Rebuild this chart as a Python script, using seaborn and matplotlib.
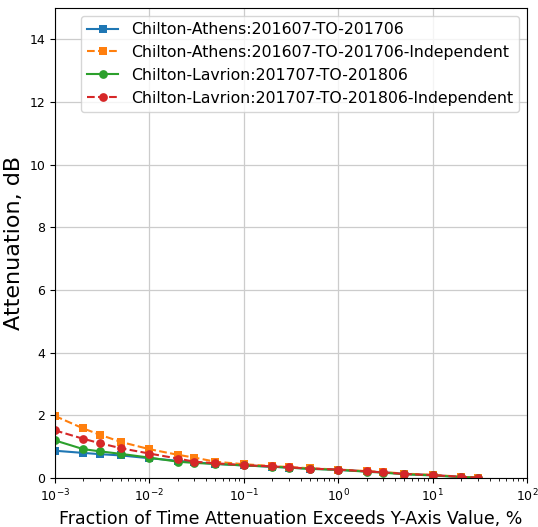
import matplotlib
matplotlib.use("Agg")
import matplotlib.pyplot as plt
import seaborn as sns
import pandas as pd

x_pct = [0.001, 0.002, 0.003, 0.005, 0.01, 0.02, 0.03, 0.05, 0.1, 0.2, 0.3, 0.5, 1, 2, 3, 5, 10, 20, 30]
athens = [0.87, 0.80, 0.76, 0.72, 0.63, 0.55, 0.50, 0.45, 0.40, 0.36, 0.33, 0.30, 0.26, 0.21, 0.18, 0.13, 0.09, 0.03, 0.01]
athens_ind = [1.98, 1.58, 1.38, 1.15, 0.92, 0.74, 0.65, 0.52, 0.44, 0.38, 0.35, 0.31, 0.27, 0.22, 0.19, 0.14, 0.10, 0.04, 0.01]
lavrion = [1.20, 0.92, 0.85, 0.77, 0.65, 0.52, 0.48, 0.45, 0.40, 0.36, 0.33, 0.29, 0.26, 0.20, 0.17, 0.12, 0.08, 0.03, 0.01]
lavrion_ind = [1.52, 1.25, 1.11, 0.95, 0.78, 0.62, 0.52, 0.47, 0.41, 0.37, 0.34, 0.30, 0.27, 0.21, 0.18, 0.13, 0.09, 0.04, 0.01]

names = ["Chilton-Athens:201607-TO-201706",
         "Chilton-Athens:201607-TO-201706-Independent",
         "Chilton-Lavrion:201707-TO-201806",
         "Chilton-Lavrion:201707-TO-201806-Independent"]
series = [athens, athens_ind, lavrion, lavrion_ind]
colors = ["#1f77b4", "#ff7f0e", "#2ca02c", "#d62728"]
styles = ["-", "--", "-", "--"]
markers = ["s", "s", "o", "o"]

rows = []
for n, s in zip(names, series):
    for xv, yv in zip(x_pct, s):
        rows.append({"x": xv, "y": yv, "series": n})
df = pd.DataFrame(rows)

fig, ax = plt.subplots(figsize=(5.38, 5.27), dpi=100)
for n, c, ls, m in zip(names, colors, styles, markers):
    sub = df[df["series"] == n]
    sns.lineplot(data=sub, x="x", y="y", ax=ax, color=c, linestyle=ls,
                 marker=m, markersize=6.3, markeredgewidth=0, label=n, linewidth=1.5)

ax.set_xscale("log")
ax.set_xlim(1e-3, 1e2)
ax.set_ylim(0, 15)
ax.set_yticks([0, 2, 4, 6, 8, 10, 12, 14])
ax.grid(True, which="major", color="#cccccc", linewidth=0.9)
ax.set_xlabel("Fraction of Time Attenuation Exceeds Y-Axis Value, %", fontsize=12.5)
ax.set_ylabel("Attenuation, dB", fontsize=16)
ax.tick_params(labelsize=9)
ax.legend(loc="upper right", fontsize=11.3, framealpha=0.8)
fig.subplots_adjust(left=0.102, right=0.98, top=0.985, bottom=0.093)
fig.savefig("out.png", dpi=100)
